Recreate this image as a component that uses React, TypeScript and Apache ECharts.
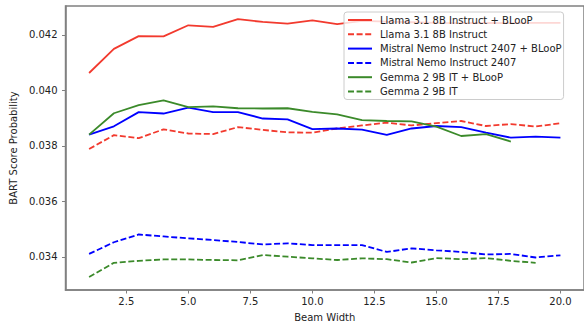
import React, { useEffect, useRef } from "react";
import * as echarts from "echarts";

const beamWidths = [1, 2, 3, 4, 5, 6, 7, 8, 9, 10, 11, 12, 13, 14, 15, 16, 17, 18, 19, 20];

const llamaBloop = [0.04063, 0.0415, 0.04196, 0.04195, 0.04235, 0.04229, 0.04257, 0.04247, 0.04241, 0.04253, 0.04239, 0.04251, 0.04248, 0.04246, 0.04244, 0.04243, 0.04244, 0.04243, 0.04244, 0.04244];
const llama = [0.03789, 0.03839, 0.03828, 0.0386, 0.03845, 0.03843, 0.03868, 0.03858, 0.03849, 0.03848, 0.03863, 0.03874, 0.03884, 0.03874, 0.03882, 0.0389, 0.03872, 0.03879, 0.0387, 0.03882];
const mistralBloop = [0.03841, 0.03871, 0.03922, 0.03917, 0.03938, 0.03922, 0.03922, 0.03899, 0.03896, 0.03861, 0.03863, 0.03859, 0.0384, 0.03863, 0.03872, 0.03868, 0.03848, 0.0383, 0.03834, 0.0383];
const mistral = [0.03411, 0.03453, 0.03481, 0.03474, 0.03467, 0.03461, 0.03454, 0.03445, 0.03449, 0.03443, 0.03443, 0.03443, 0.03418, 0.03431, 0.03424, 0.03418, 0.03409, 0.03411, 0.03398, 0.03406];
const gemmaBloop = [0.03841, 0.03918, 0.03947, 0.03964, 0.0394, 0.03943, 0.03936, 0.03935, 0.03936, 0.03923, 0.03914, 0.03893, 0.0389, 0.03889, 0.0387, 0.03836, 0.03843, 0.03816];
const gemma = [0.03328, 0.03379, 0.03386, 0.03391, 0.03391, 0.03389, 0.03388, 0.03407, 0.03401, 0.03395, 0.03389, 0.03395, 0.03392, 0.0338, 0.03396, 0.03392, 0.03396, 0.03386, 0.03379];

const xTicks = [2.5, 5, 7.5, 10, 12.5, 15, 17.5, 20];
const yTicks = [0.034, 0.036, 0.038, 0.04, 0.042];

const RED = "#f23a2e";
const BLUE = "#0000ff";
const GREEN = "#3b8a2a";

const FONT = "DejaVu Sans";
const TEXT = "#222222";
const AXIS = "#808080";

const pairs = (ys: number[]) => ys.map((y, i) => [beamWidths[i], y]);

export default function App() {
  const ref = useRef<HTMLDivElement>(null);
  useEffect(() => {
    if (!ref.current) return;
    const chart = echarts.init(ref.current, null, { renderer: "svg" });
    const mk = (name: string, data: number[], color: string, dashed: boolean) => ({
      name,
      type: "line",
      data: pairs(data),
      symbol: "none",
      showSymbol: false,
      lineStyle: {
        color,
        width: 1.8,
        type: dashed ? [6, 2.6] : "solid",
      },
      itemStyle: { color },
    });
    chart.setOption({
      animation: false,
      textStyle: { fontFamily: FONT },
      grid: {
        left: 65,
        top: 6,
        width: 523,
        height: 286,
        show: true,
        borderColor: AXIS,
        borderWidth: 1.5,
        backgroundColor: "transparent",
      },
      legend: {
        orient: "vertical",
        left: 344,
        top: 12,
        itemWidth: 24,
        itemHeight: 12,
        itemGap: 4.3,
        padding: [3, 2, 3, 3],
        backgroundColor: "rgba(255,255,255,0.8)",
        borderColor: "#cccccc",
        borderWidth: 1,
        borderRadius: 3,
        itemStyle: { opacity: 0, color: "transparent", borderColor: "transparent", borderWidth: 0 },
        textStyle: {
          fontFamily: FONT,
          fontSize: 10,
          color: TEXT,
          padding: [0, 0, 0, 3],
        },
        data: [
          "Llama 3.1 8B Instruct + BLooP",
          "Llama 3.1 8B Instruct",
          "Mistral Nemo Instruct 2407 + BLooP",
          "Mistral Nemo Instruct 2407",
          "Gemma 2 9B IT + BLooP",
          "Gemma 2 9B IT",
        ],
      },
      xAxis: {
        type: "value",
        min: 0.05,
        max: 20.95,
        name: "Beam Width",
        nameLocation: "middle",
        nameGap: 22,
        nameTextStyle: { fontFamily: FONT, fontSize: 10, color: TEXT },
        axisLine: { show: true, lineStyle: { color: AXIS, width: 1.5 } },
        axisTick: { show: true, length: 3.5, lineStyle: { color: AXIS, width: 1 }, customValues: xTicks },
        axisLabel: {
          fontFamily: FONT,
          fontSize: 10,
          color: TEXT,
          margin: 6,
          customValues: xTicks,
          formatter: (v: number) => v.toFixed(1),
        },
        splitLine: { show: false },
      },
      yAxis: {
        type: "value",
        min: 0.032809,
        max: 0.043045,
        name: "BART Score Probability",
        nameLocation: "middle",
        nameGap: 43,
        nameTextStyle: { fontFamily: FONT, fontSize: 10, color: TEXT },
        axisLine: { show: true, lineStyle: { color: AXIS, width: 1.5 } },
        axisTick: { show: true, length: 3.5, lineStyle: { color: AXIS, width: 1 }, customValues: yTicks },
        axisLabel: {
          fontFamily: FONT,
          fontSize: 10,
          color: TEXT,
          margin: 8,
          customValues: yTicks,
          formatter: (v: number) => v.toFixed(3),
        },
        splitLine: { show: false },
      },
      series: [
        mk("Llama 3.1 8B Instruct + BLooP", llamaBloop, RED, false),
        mk("Llama 3.1 8B Instruct", llama, RED, true),
        mk("Mistral Nemo Instruct 2407 + BLooP", mistralBloop, BLUE, false),
        mk("Mistral Nemo Instruct 2407", mistral, BLUE, true),
        mk("Gemma 2 9B IT + BLooP", gemmaBloop, GREEN, false),
        mk("Gemma 2 9B IT", gemma, GREEN, true),
      ],
    });
    return () => chart.dispose();
  }, []);
  return (
    <div
      ref={ref}
      style={{ position: "fixed", left: 0, top: 0, width: 584, height: 327, background: "#ffffff" }}
    />
  );
}
